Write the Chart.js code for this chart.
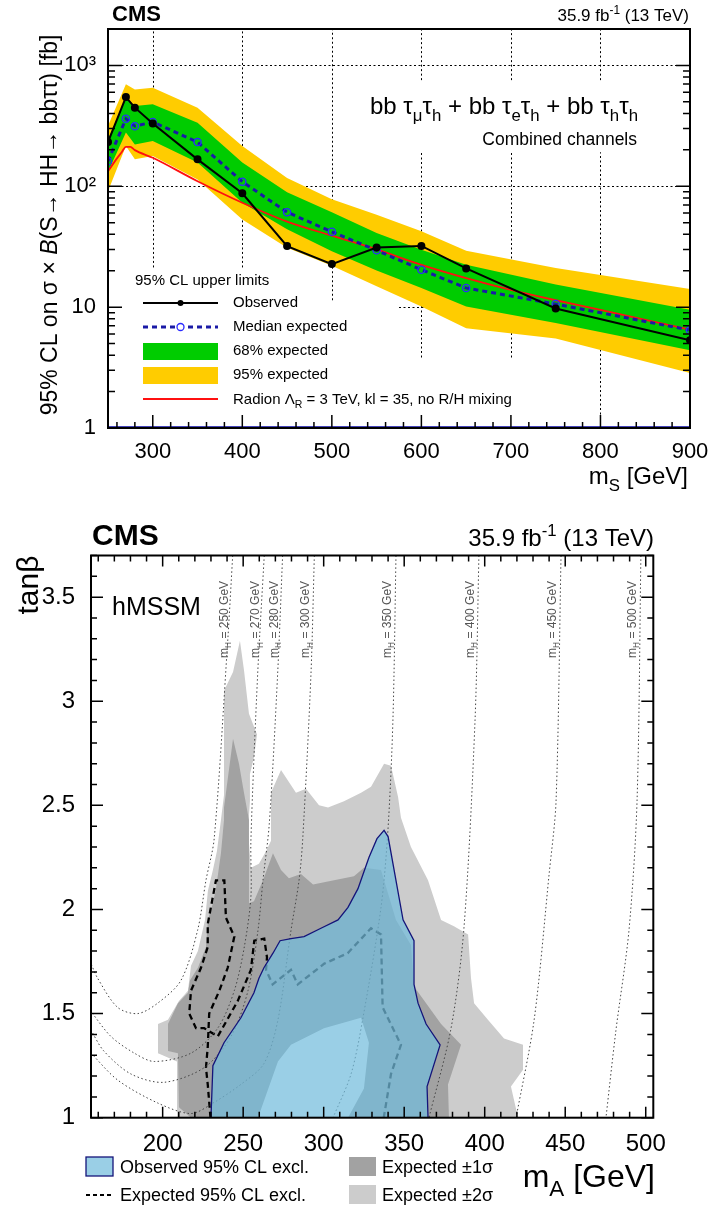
<!DOCTYPE html>
<html>
<head>
<meta charset="utf-8">
<script src="https://cdn.jsdelivr.net/npm/chart.js@4.4.1/dist/chart.umd.min.js"></script>
<style>
body{margin:0;background:#fff;width:708px;height:1208px;overflow:hidden;position:relative;}
canvas{position:absolute;left:0;}
#topChart{top:0;}
#bottomChart{top:500px;}
</style>
</head>
<body>
<canvas id="topChart" width="708" height="500"></canvas>
<canvas id="bottomChart" width="708" height="708"></canvas>
<script>
// ---------- upper panel: limits vs m_S ----------
const massPoints = [250,270,280,300,350,400,450,500,550,600,650,750,900];
const observedLimit = [232,547,447,331,167,87.5,32,22.7,31.1,32.1,20.9,9.75,5.33];
const expectedLimit = [161,362,314,340,232,109,61,42,29.5,20.4,14.4,10.6,6.45];
const band68Low  = [131,278,222,237,157,73,44,29,20.1,14.4,10.1,7.4,4.4];
const band68High = [244,541,461,476,336,157,89,61,41.1,29.9,22.4,15.4,9.5];
const band95Low  = [91,215,167,178,114,53,31,22,14.9,10.1,6.7,5.5,2.85];
const band95High = [316,697,632,653,447,215,117,78,58,42.4,29.3,21.1,14.1];
const radionMass = [250,260,265,270,275,280,300,350,400,450,500,550,600,650,700,750,800,900];
const radionXsec = [133,170,190,212,212,199,172,110,73,51,39,30,22.4,17.4,13.9,11.4,9.5,6.5];
const topMassTicks = [300,400,500,600,700,800,900];
const topLimitTicks = [1,10,100,1000];
const topLimitLabels = ['1','10','10²','10³'];

// ---------- lower panel: hMSSM exclusion (mA, tanb) ----------
const band2Sigma = [[208.9,1.0],[208.9,1.27],[197.1,1.31],[197.1,1.45],[203.3,1.47],[210.1,1.56],[215.7,1.61],[217.6,1.73],[221.9,1.80],[226.3,1.95],[228.1,2.09],[231.2,2.19],[233.7,2.28],[236.2,2.43],[238.1,2.55],[238.1,3.05],[243.7,3.14],[248.0,3.29],[250.5,3.15],[253.6,2.94],[258.6,2.84],[256.7,2.73],[254.2,2.65],[254.2,2.52],[253.0,2.38],[254.8,2.20],[259.8,2.22],[264.2,2.28],[267.3,2.33],[267.3,2.56],[273.5,2.67],[282.8,2.56],[289.0,2.58],[297.1,2.50],[302.7,2.49],[312.6,2.52],[323.2,2.56],[329.4,2.59],[337.5,2.70],[341.8,2.69],[346.2,2.54],[348.0,2.44],[354.2,2.30],[364.8,2.14],[372.9,1.95],[380.9,1.92],[389.7,1.88],[391.5,1.67],[393.4,1.55],[402.0,1.47],[412.0,1.38],[423.8,1.35],[423.8,1.23],[416.3,1.15],[420.7,1.0]];
const band1Sigma = [[217.6,1.0],[210.1,1.05],[209.5,1.31],[203.3,1.32],[203.3,1.45],[209.5,1.55],[215.7,1.60],[217.0,1.66],[221.9,1.72],[226.9,1.82],[228.1,1.95],[231.2,2.03],[233.1,2.10],[236.2,2.27],[238.1,2.43],[238.1,2.49],[243.7,2.82],[247.4,2.70],[250.5,2.56],[253.6,2.43],[253.6,2.03],[256.7,2.04],[262.3,2.14],[268.5,2.27],[273.5,2.19],[278.4,2.15],[285.9,2.17],[293.4,2.12],[306.4,2.14],[318.8,2.16],[325.0,2.20],[335.6,2.19],[344.9,1.95],[354.2,1.83],[356.1,1.63],[372.9,1.45],[385.3,1.35],[377.2,1.16],[377.8,1.0]];
const bandInner = [[259.2,1.0],[271.6,1.27],[279.7,1.35],[300.2,1.43],[318.8,1.47],[323.2,1.48],[328.1,1.36],[325.0,1.14],[315.1,1.0]];
const observedExcl = [[230.0,1.0],[231.2,1.25],[238.1,1.36],[248.6,1.48],[256.7,1.60],[259.8,1.67],[262.9,1.72],[268.5,1.79],[272.9,1.85],[279.7,1.86],[287.8,1.87],[298.3,1.91],[308.9,1.95],[315.1,2.01],[321.3,2.10],[328.1,2.25],[333.1,2.34],[337.5,2.38],[340.0,2.35],[349.3,1.95],[356.1,1.85],[356.1,1.64],[358.6,1.55],[363.6,1.45],[372.3,1.35],[364.2,1.15],[364.8,1.0],[230.0,1.0]];
const expectedExcl = [[229.7,1.0],[228.0,1.16],[226.9,1.24],[228.0,1.34],[228.9,1.50],[235.2,1.61],[240.4,1.72],[244.5,1.87],[239.3,1.96],[238.3,2.14],[233.1,2.14],[228.0,1.93],[228.0,1.82],[223.8,1.72],[217.6,1.61],[216.5,1.50],[220.7,1.43],[225.8,1.43],[234.2,1.39],[246.6,1.56],[254.8,1.71],[256.9,1.85],[263.1,1.86],[264.8,1.77],[264.2,1.71],[268.3,1.64],[279.7,1.71],[283.9,1.64],[300.4,1.74],[314.9,1.79],[329.4,1.91],[335.6,1.88],[336.6,1.53],[348.0,1.35],[341.8,1.21],[337.3,1.0]];
const isoMH = [250,270,280,300,350,400,450,500];
const isoLines = [
  [[243.5,3.70],[240.4,3.29],[232.0,2.34],[226.9,2.14],[221.7,1.90],[211.4,1.66],[196.9,1.55],[184.5,1.50],[172.0,1.53],[159.6,1.67],[155.5,1.74]],
  [[263.1,3.70],[259.0,3.13],[254.8,2.33],[254.8,2.06],[250.7,1.82],[244.5,1.61],[234.2,1.43],[217.6,1.31],[194.8,1.27],[182.4,1.31],[167.9,1.39],[155.5,1.51]],
  [[274.5,3.70],[271.4,3.13],[266.2,2.41],[262.3,2.14],[259.2,1.90],[253.0,1.61],[242.4,1.39],[225.7,1.24],[200.8,1.17],[180.3,1.21],[163.5,1.32],[155.5,1.42]],
  [[294.2,3.70],[292.1,3.13],[287.0,2.34],[284.7,2.14],[279.7,1.90],[271.6,1.47],[262.9,1.26],[248.6,1.16],[231.2,1.07],[217.6,1.02],[197.1,1.07],[172.2,1.18],[155.5,1.31]],
  [[344.9,3.70],[343.0,2.91],[339.9,2.38],[335.6,2.01],[324.4,1.48],[317.0,1.21],[305.8,1.0]],
  [[396.4,3.70],[394.0,2.91],[387.1,1.91],[379.1,1.43],[365.4,1.0]],
  [[447.4,3.70],[444.3,2.52],[440.0,2.17],[430.7,1.47],[419.5,1.0]],
  [[497.0,3.70],[494.6,2.52],[489.6,1.90],[481.5,1.42],[475.3,1.0]]
];
const lowMassTicks = [200,250,300,350,400,450,500];
const tanbTicks = [1,1.5,2,2.5,3,3.5];
const tanbLabels = ['1','1.5','2','2.5','3','3.5'];

const FONT = "'Liberation Sans', Arial, Helvetica, sans-serif";

function pts(xs, ys){ return xs.map((x,i)=>({x:x, y:ys[i]})); }
function pairs(arr){ return arr.map(p=>({x:p[0], y:p[1]})); }

// text with sub / superscripts, parts = [[text, kind]]
function drawRich(ctx, x, y, parts, size, align, color){
  let total = 0;
  const items = parts.map(p=>{
    const k = p[1] || '';
    const s = (k==='sub'||k==='sup') ? size*0.7 : size;
    const f = (k==='it'?'italic ':'') + (k==='b'?'bold ':'') + s + 'px ' + FONT;
    ctx.font = f;
    const w = ctx.measureText(p[0]).width;
    total += w;
    return {t:p[0], k:k, f:f, w:w};
  });
  let cx = align==='right' ? x-total : align==='center' ? x-total/2 : x;
  ctx.fillStyle = color || '#000';
  ctx.textAlign = 'left';
  ctx.textBaseline = 'alphabetic';
  items.forEach(o=>{
    ctx.font = o.f;
    const dy = o.k==='sub' ? size*0.28 : o.k==='sup' ? -size*0.42 : 0;
    ctx.fillText(o.t, cx, y+dy);
    cx += o.w;
  });
}

function drawTicks(chart, xt, yt, sides){
  const {ctx, chartArea:a, scales:{x, y}} = chart;
  ctx.save();
  ctx.strokeStyle = '#000';
  ctx.lineWidth = 1.5;
  ctx.beginPath();
  xt.forEach(t=>{
    const px = x.getPixelForValue(t[0]);
    if(sides.bottom){ ctx.moveTo(px, a.bottom); ctx.lineTo(px, a.bottom-t[1]); }
    if(sides.top){ ctx.moveTo(px, a.top); ctx.lineTo(px, a.top+t[1]); }
  });
  yt.forEach(t=>{
    const py = y.getPixelForValue(t[0]);
    if(sides.left){ ctx.moveTo(a.left, py); ctx.lineTo(a.left+t[1], py); }
    if(sides.right){ ctx.moveTo(a.right, py); ctx.lineTo(a.right-t[1], py); }
  });
  ctx.stroke();
  ctx.lineWidth = 2;
  ctx.strokeRect(a.left, a.top, a.right-a.left, a.bottom-a.top);
  ctx.restore();
}

// ---------- upper chart ----------
const topGrid = [
  ['v',300,21.3,2000],['v',400,21.3,2000],['v',500,11.4,2000],
  ['v',600,755,2000],['v',600,3.83,191],['v',700,755,2000],['v',700,3.83,191],
  ['v',800,755,2000],['v',800,1,191],
  ['h',1000,250,900],['h',100,250,900],['h',10,575,900]
];

const topDecor = {
  id:'topDecor',
  beforeDatasetsDraw(chart){
    const {ctx, scales:{x, y}} = chart;
    ctx.save();
    ctx.strokeStyle = '#000';
    ctx.lineWidth = 1;
    ctx.setLineDash([2,2.5]);
    ctx.beginPath();
    topGrid.forEach(s=>{
      if(s[0]==='v'){
        const px = Math.round(x.getPixelForValue(s[1]))+0.5;
        ctx.moveTo(px, y.getPixelForValue(s[2])); ctx.lineTo(px, y.getPixelForValue(s[3]));
      } else {
        const py = Math.round(y.getPixelForValue(s[1]))+0.5;
        ctx.moveTo(x.getPixelForValue(s[2]), py); ctx.lineTo(x.getPixelForValue(s[3]), py);
      }
    });
    ctx.stroke();
    ctx.restore();
  },
  afterDatasetsDraw(chart){
    const {ctx, chartArea:a} = chart;
    const xt = [], yt = [];
    for(let m=260; m<=900; m+=20) xt.push([m, m%100===0 ? 13 : 6]);
    for(let d=1; d<=1000; d*=10){
      for(let k=1; k<=9; k++){ if(k*d<=2000) yt.push([k*d, k===1 ? 14 : 7]); }
    }
    ctx.save();
    ctx.strokeStyle = '#4444bb';
    ctx.lineWidth = 1;
    ctx.beginPath(); ctx.moveTo(a.left, a.bottom-1.5); ctx.lineTo(a.right, a.bottom-1.5); ctx.stroke();
    ctx.restore();
    drawTicks(chart, xt, yt, {bottom:true, left:true, right:true});

    ctx.save();
    // header
    ctx.fillStyle = '#000';
    ctx.font = 'bold 22px ' + FONT;
    ctx.textBaseline = 'alphabetic';
    ctx.fillText('CMS', 112, 21);
    drawRich(ctx, 689, 21, [['35.9 fb'],['-1','sup'],[' (13 TeV)']], 17, 'right');
    // channel label
    drawRich(ctx, 638, 114, [['bb '],['τ'],['μ','sub'],['τ'],['h','sub'],[' + bb '],['τ'],['e','sub'],['τ'],['h','sub'],[' + bb '],['τ'],['h','sub'],['τ'],['h','sub']], 24, 'right');
    drawRich(ctx, 637, 145, [['Combined channels']], 17.5, 'right');
    // axis titles
    drawRich(ctx, 688, 484, [['m'],['S','sub'],[' [GeV]']], 24, 'right');
    ctx.save();
    ctx.translate(57, 225);
    ctx.rotate(-Math.PI/2);
    drawRich(ctx, 0, 0, [['95% CL on σ × '],['B','it'],['(S→ HH→ bbττ) [fb]']], 23, 'center');
    ctx.restore();

    // legend
    ctx.font = '15px ' + FONT;
    ctx.textBaseline = 'middle';
    ctx.fillStyle = '#000';
    ctx.fillText('95% CL upper limits', 135, 281);
    const lx0 = 143, lx1 = 218, lxm = 180.5, tx = 233;
    ctx.strokeStyle = '#000'; ctx.lineWidth = 2;
    ctx.beginPath(); ctx.moveTo(lx0, 303); ctx.lineTo(lx1, 303); ctx.stroke();
    ctx.beginPath(); ctx.arc(lxm, 303, 3, 0, Math.PI*2); ctx.fill();
    ctx.fillText('Observed', tx, 303);
    ctx.strokeStyle = '#1a1aa6'; ctx.lineWidth = 3; ctx.setLineDash([5,4]);
    ctx.beginPath(); ctx.moveTo(lx0, 327); ctx.lineTo(lx1, 327); ctx.stroke();
    ctx.setLineDash([]);
    ctx.strokeStyle = '#2a2aff'; ctx.lineWidth = 1.3;
    ctx.fillStyle = '#fff';
    ctx.beginPath(); ctx.arc(lxm, 327, 3.5, 0, Math.PI*2); ctx.fill(); ctx.stroke();
    ctx.fillStyle = '#000';
    ctx.fillText('Median expected', tx, 327);
    ctx.fillStyle = '#00cc00'; ctx.fillRect(lx0, 343, lx1-lx0, 17);
    ctx.fillStyle = '#000'; ctx.fillText('68% expected', tx, 351);
    ctx.fillStyle = '#ffcc00'; ctx.fillRect(lx0, 367, lx1-lx0, 17);
    ctx.fillStyle = '#000'; ctx.fillText('95% expected', tx, 375);
    ctx.strokeStyle = '#ff1010'; ctx.lineWidth = 2;
    ctx.beginPath(); ctx.moveTo(lx0, 399); ctx.lineTo(lx1, 399); ctx.stroke();
    drawRich(ctx, tx, 404, [['Radion Λ'],['R','sub'],[' = 3 TeV, kl = 35, no R/H mixing']], 15, 'left');
    ctx.restore();
  }
};

new Chart(document.getElementById('topChart'), {
  type:'line',
  data:{ datasets:[
    {label:'Observed', data:pts(massPoints, observedLimit), borderColor:'#000', borderWidth:2, pointRadius:3, pointBackgroundColor:'#000', pointBorderColor:'#000', fill:false},
    {label:'Median expected', data:pts(massPoints, expectedLimit), borderColor:'#1a1aa6', borderWidth:3, borderDash:[5,4], pointRadius:3.6, pointBorderColor:'#2a2aff', pointBorderWidth:1.3, pointBackgroundColor:'rgba(0,0,0,0)', fill:false},
    {label:'Radion', data:pts(radionMass, radionXsec), borderColor:'#ff1010', borderWidth:1.8, pointRadius:0, cubicInterpolationMode:'monotone', fill:false},
    {label:'68% high', data:pts(massPoints, band68High), borderColor:'rgba(0,0,0,0)', borderWidth:0, pointRadius:0, backgroundColor:'#00cc00', fill:'+1'},
    {label:'68% low', data:pts(massPoints, band68Low), borderColor:'rgba(0,0,0,0)', borderWidth:0, pointRadius:0, fill:false},
    {label:'95% high', data:pts(massPoints, band95High), borderColor:'rgba(0,0,0,0)', borderWidth:0, pointRadius:0, backgroundColor:'#ffcc00', fill:'+1'},
    {label:'95% low', data:pts(massPoints, band95Low), borderColor:'rgba(0,0,0,0)', borderWidth:0, pointRadius:0, fill:false}
  ]},
  options:{
    animation:false, responsive:false, devicePixelRatio:1,
    layout:{padding:{top:29, right:18, left:0, bottom:0}},
    plugins:{legend:{display:false}, tooltip:{enabled:false}},
    scales:{
      x:{type:'linear', min:250, max:900,
        afterBuildTicks:s=>{ s.ticks = topMassTicks.map(v=>({value:v})); },
        afterFit:s=>{ s.height = 72; s.paddingLeft = 0; s.paddingRight = 0; },
        grid:{display:false}, border:{display:false},
        ticks:{font:{size:22, family:FONT}, color:'#000', padding:3, maxRotation:0}},
      y:{type:'logarithmic', min:1, max:2000,
        afterBuildTicks:s=>{ s.ticks = topLimitTicks.map(v=>({value:v})); },
        afterFit:s=>{ s.width = 108; s.paddingTop = 0; s.paddingBottom = 0; },
        grid:{display:false}, border:{display:false},
        ticks:{font:{size:22, family:FONT}, color:'#000', padding:4,
          callback:v=>{ const i = topLimitTicks.indexOf(v); return i>=0 ? topLimitLabels[i] : ''; }}}
    }
  },
  plugins:[topDecor]
});

// ---------- lower chart ----------
const bottomDecor = {
  id:'bottomDecor',
  afterDatasetsDraw(chart){
    const {ctx, scales:{x, y}} = chart;
    const xt = [], yt = [];
    for(let m=160; m<=500; m+=10) xt.push([m, m%50===0 ? 11 : 6]);
    for(let i=0; i<=27; i++){ const t = 1+i*0.1; yt.push([t, i%5===0 ? 12 : 6]); }
    drawTicks(chart, xt, yt, {bottom:true, top:true, left:true, right:true});

    ctx.save();
    // m_H labels
    isoLines.forEach((ln,i)=>{
      const px = x.getPixelForValue(ln[0][0]) - 5;
      ctx.save();
      ctx.translate(px, 158);
      ctx.rotate(-Math.PI/2);
      drawRich(ctx, 0, 0, [['m'],['H','sub'],[' = ' + isoMH[i] + ' GeV']], 12, 'left', '#555');
      ctx.restore();
    });
    ctx.fillStyle = '#000';
    ctx.font = 'bold 30px ' + FONT;
    ctx.textBaseline = 'alphabetic';
    ctx.textAlign = 'left';
    ctx.fillText('CMS', 92, 45);
    drawRich(ctx, 654, 46, [['35.9 fb'],['-1','sup'],[' (13 TeV)']], 24, 'right');
    drawRich(ctx, 112, 115, [['hMSSM']], 25, 'left');
    ctx.save();
    ctx.translate(38, 85);
    ctx.rotate(-Math.PI/2);
    drawRich(ctx, 0, 0, [['tanβ']], 30, 'center');
    ctx.restore();
    drawRich(ctx, 655, 687, [['m'],['A','sub'],[' [GeV]']], 32, 'right');

    // legend
    ctx.fillStyle = 'rgba(115,188,220,0.72)';
    ctx.fillRect(86, 657, 27, 19);
    ctx.strokeStyle = '#14147a'; ctx.lineWidth = 1.3;
    ctx.strokeRect(86, 657, 27, 19);
    drawRich(ctx, 120, 673, [['Observed 95% CL excl.']], 18, 'left');
    ctx.strokeStyle = '#000'; ctx.lineWidth = 2; ctx.setLineDash([4,3]);
    ctx.beginPath(); ctx.moveTo(86, 695); ctx.lineTo(113, 695); ctx.stroke();
    ctx.setLineDash([]);
    drawRich(ctx, 120, 701, [['Expected 95% CL excl.']], 18, 'left');
    ctx.fillStyle = '#a2a2a2'; ctx.fillRect(349, 657, 27, 19);
    drawRich(ctx, 382, 673, [['Expected ±1σ']], 18, 'left');
    ctx.fillStyle = '#cccccc'; ctx.fillRect(349, 685, 27, 19);
    drawRich(ctx, 382, 701, [['Expected ±2σ']], 18, 'left');
    ctx.restore();
  }
};

const bottomSets = [
  {label:'Observed excl.', data:pairs(observedExcl), borderColor:'#14147a', borderWidth:1.3, backgroundColor:'rgba(115,188,220,0.72)', fill:'shape', pointRadius:0, tension:0}
];
isoLines.forEach((ln,i)=>{
  bottomSets.push({label:'mH ' + isoMH[i], data:pairs(ln), borderColor:'#444', borderWidth:1, borderDash:[1.5,2.5], pointRadius:0, tension:0.3, fill:false});
});
bottomSets.push(
  {label:'Expected excl.', data:pairs(expectedExcl), borderColor:'#000', borderWidth:2.3, borderDash:[6,4], pointRadius:0, tension:0, fill:false},
  {label:'inner', data:pairs(bandInner), borderColor:'rgba(0,0,0,0)', borderWidth:0, backgroundColor:'#ffffff', fill:'shape', pointRadius:0, tension:0},
  {label:'Expected ±1σ', data:pairs(band1Sigma), borderColor:'rgba(0,0,0,0)', borderWidth:0, backgroundColor:'#a2a2a2', fill:'shape', pointRadius:0, tension:0},
  {label:'Expected ±2σ', data:pairs(band2Sigma), borderColor:'rgba(0,0,0,0)', borderWidth:0, backgroundColor:'#cccccc', fill:'shape', pointRadius:0, tension:0}
);

new Chart(document.getElementById('bottomChart'), {
  type:'line',
  data:{datasets:bottomSets},
  options:{
    animation:false, responsive:false, devicePixelRatio:1,
    layout:{padding:{top:55.5, right:54.7, left:0, bottom:0}},
    plugins:{legend:{display:false}, tooltip:{enabled:false}},
    scales:{
      x:{type:'linear', min:155.5, max:504.7,
        afterBuildTicks:s=>{ s.ticks = lowMassTicks.map(v=>({value:v})); },
        afterFit:s=>{ s.height = 90.3; s.paddingLeft = 0; s.paddingRight = 0; },
        grid:{display:false}, border:{display:false},
        ticks:{font:{size:24, family:FONT}, color:'#000', padding:4, maxRotation:0}},
      y:{type:'linear', min:1, max:3.7,
        afterBuildTicks:s=>{ s.ticks = tanbTicks.map(v=>({value:v})); },
        afterFit:s=>{ s.width = 91; s.paddingTop = 0; s.paddingBottom = 0; },
        grid:{display:false}, border:{display:false},
        ticks:{font:{size:24, family:FONT}, color:'#000', padding:8,
          callback:v=>{ const i = tanbTicks.indexOf(v); return i>=0 ? tanbLabels[i] : ''; }}}
    }
  },
  plugins:[bottomDecor]
});
</script>
</body>
</html>
